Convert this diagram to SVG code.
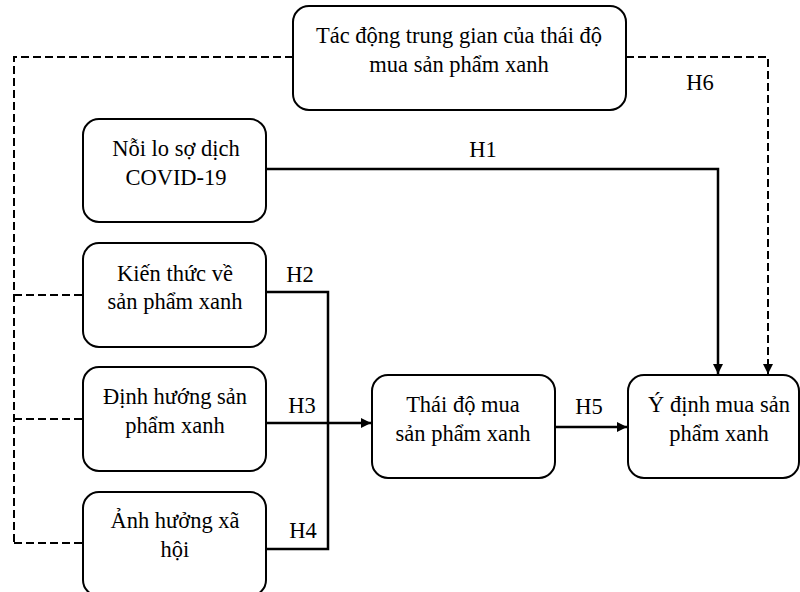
<svg xmlns="http://www.w3.org/2000/svg" width="800" height="592" viewBox="0 0 800 592">
  <style>
    .box { fill: #ffffff; stroke: #000000; stroke-width: 2; }
    .lbl { font-family: "Liberation Serif", "DejaVu Serif", serif; font-size: 22.5px; fill: #000000; text-anchor: middle; }
    .solid { fill: none; stroke: #000000; stroke-width: 2.5; }
    .dash { fill: none; stroke: #000000; stroke-width: 2; stroke-dasharray: 8 4; }
  </style>
  <defs>
    <marker id="arrow" viewBox="0 0 10 10" refX="10" refY="5" markerWidth="10" markerHeight="10" markerUnits="userSpaceOnUse" orient="auto">
      <path d="M0,0 L10,5 L0,10 Z" fill="#000000"/>
    </marker>
  </defs>
  <rect width="800" height="592" fill="#ffffff"/>

  <!-- connectors -->
  <g id="connectors">
    <!-- H6 mediation (dashed) -->
    <path class="dash" d="M293,57 H14 V543"/>
    <path class="dash" d="M14,295 H83"/>
    <path class="dash" d="M14,419 H83"/>
    <path class="dash" d="M14,543 H83"/>
    <path class="dash" d="M626,57 H768 V374" marker-end="url(#arrow)"/>
    <!-- H1 -->
    <path class="solid" d="M266,169 H718 V374" marker-end="url(#arrow)"/>
    <!-- H2 / H4 bracket -->
    <path class="solid" d="M266,292 H328 V549 H266"/>
    <!-- H3 -->
    <path class="solid" d="M266,423 H371" marker-end="url(#arrow)"/>
    <!-- H5 -->
    <path class="solid" d="M555,427 H627" marker-end="url(#arrow)"/>
    <text class="lbl" x="483" y="157">H1</text>
    <text class="lbl" x="300" y="282">H2</text>
    <text class="lbl" x="302" y="413">H3</text>
    <text class="lbl" x="303" y="538">H4</text>
    <text class="lbl" x="589" y="414">H5</text>
    <text class="lbl" x="700" y="90">H6</text>
  </g>

  <g id="mediation">
    <rect class="box" x="293" y="6" width="333" height="104" rx="16"/>
    <text class="lbl" x="459" y="43">Tác động trung gian của thái độ</text>
    <text class="lbl" x="459" y="72">mua sản phẩm xanh</text>
  </g>

  <g id="fear">
    <rect class="box" x="83" y="119" width="183" height="103" rx="16"/>
    <text class="lbl" x="176" y="156">Nỗi lo sợ dịch</text>
    <text class="lbl" x="176" y="185">COVID-19</text>
  </g>

  <g id="knowledge">
    <rect class="box" x="83" y="243" width="183" height="104" rx="16"/>
    <text class="lbl" x="175" y="281">Kiến thức về</text>
    <text class="lbl" x="175" y="309">sản phẩm xanh</text>
  </g>

  <g id="orientation">
    <rect class="box" x="83" y="367" width="183" height="104" rx="16"/>
    <text class="lbl" x="175" y="404">Định hướng sản</text>
    <text class="lbl" x="175" y="433">phẩm xanh</text>
  </g>

  <g id="social">
    <rect class="box" x="83" y="492" width="183" height="104" rx="16"/>
    <text class="lbl" x="175" y="528">Ảnh hưởng xã</text>
    <text class="lbl" x="175" y="557">hội</text>
  </g>

  <g id="attitude">
    <rect class="box" x="372" y="375" width="183" height="103" rx="16"/>
    <text class="lbl" x="463" y="412">Thái độ mua</text>
    <text class="lbl" x="463" y="441">sản phẩm xanh</text>
  </g>

  <g id="intention">
    <rect class="box" x="628" y="375" width="171" height="103" rx="16"/>
    <text class="lbl" x="719" y="412">Ý định mua sản</text>
    <text class="lbl" x="719" y="441">phẩm xanh</text>
  </g>
</svg>
